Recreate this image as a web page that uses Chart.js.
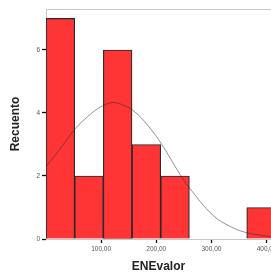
<!DOCTYPE html>
<html>
<head>
<meta charset="utf-8">
<script src="https://cdn.jsdelivr.net/npm/chart.js@4"></script>
<style>
  html, body { margin: 0; padding: 0; background: #fff; }
  #wrap { width: 271px; height: 273px; }
</style>
</head>
<body>
<div id="wrap"><canvas id="myChart"></canvas></div>
<script>
// histogram bins (centre of each 52-wide bin) and counts
const binCenters = [26, 78, 130, 182, 234, 286, 338, 390]
const counts = [7, 2, 6, 3, 2, 0, 0, 1]

// normal curve
const curveX = [0, 25, 53, 80, 100, 120, 140, 160, 185, 210, 243, 261, 303, 334, 364, 408]
const curveY = [2.3, 2.85, 3.5, 3.95, 4.2, 4.33, 4.25, 4.05, 3.6, 3.0, 2.05, 1.6, 0.75, 0.4, 0.2, 0.07]

const xTicks = [100, 200, 300, 400]
const yTicks = [0, 2, 4, 6]

const ctx = document.getElementById('myChart')

// top line of the plot frame
const frame = {
    id: 'frame',
    beforeDatasetsDraw(chart) {
        const a = chart.chartArea
        const c = chart.ctx
        c.save()
        c.strokeStyle = '#c8c8c8'
        c.lineWidth = 1
        c.beginPath()
        c.moveTo(a.left, a.top + 0.5)
        c.lineTo(a.right, a.top + 0.5)
        c.stroke()
        c.restore()
    }
}

const myChart = new Chart(ctx, {
    data: {
        datasets: [{
            type: 'line',
            data: curveX.map((x, i) => ({ x: x, y: curveY[i] })),
            borderColor: 'rgba(40, 40, 40, 0.5)',
            borderWidth: 1,
            pointRadius: 0,
            tension: 0.4,
            fill: false,
            order: 0
        }, {
            type: 'bar',
            data: binCenters.map((x, i) => ({ x: x, y: counts[i] })),
            backgroundColor: '#ff3535',
            borderColor: '#2a2a2a',
            borderWidth: 1.2,
            barPercentage: 1,
            categoryPercentage: 1,
            order: 1
        }]
    },
    options: {
        responsive: true,
        maintainAspectRatio: false,
        animation: false,
        layout: { padding: { top: 9, right: 0, bottom: 0, left: 0 } },
        plugins: { legend: { display: false }, tooltip: { enabled: false } },
        scales: {
            x: {
                type: 'linear',
                min: 0,
                max: 408,
                offset: false,
                afterBuildTicks: s => { s.ticks = xTicks.map(v => ({ value: v })) },
                afterFit: s => { s.height = 34; s.paddingRight = 0; s.paddingLeft = 0 },
                ticks: {
                    padding: 2,
                    maxRotation: 0,
                    color: '#555',
                    font: { family: 'Liberation Sans', size: 6.5 },
                    callback: v => v.toFixed(2).replace('.', ',')
                },
                grid: { offset: false, drawOnChartArea: false, tickLength: 4, tickColor: '#111', tickWidth: 1.3 },
                border: { color: '#c8c8c8' },
                title: {
                    display: true,
                    text: 'ENEvalor',
                    color: '#222',
                    font: { family: 'Liberation Sans', size: 12, weight: 'bold', lineHeight: 1 },
                    padding: { top: 0, bottom: 0 }
                }
            },
            y: {
                min: 0,
                max: 7.3,
                afterBuildTicks: s => { s.ticks = yTicks.map(v => ({ value: v })) },
                afterFit: s => { s.width = 46; s.paddingTop = 0; s.paddingBottom = 0 },
                ticks: {
                    padding: 2,
                    color: '#555',
                    font: { family: 'Liberation Sans', size: 6.5 }
                },
                grid: { drawOnChartArea: false, tickLength: 4, tickColor: '#111', tickWidth: 1.3 },
                border: { color: '#c8c8c8' },
                title: {
                    display: true,
                    text: 'Recuento',
                    color: '#222',
                    font: { family: 'Liberation Sans', size: 12, weight: 'bold', lineHeight: 1.2 },
                    padding: { top: 8, bottom: 0 }
                }
            }
        }
    },
    plugins: [frame]
})
</script>
</body>
</html>
